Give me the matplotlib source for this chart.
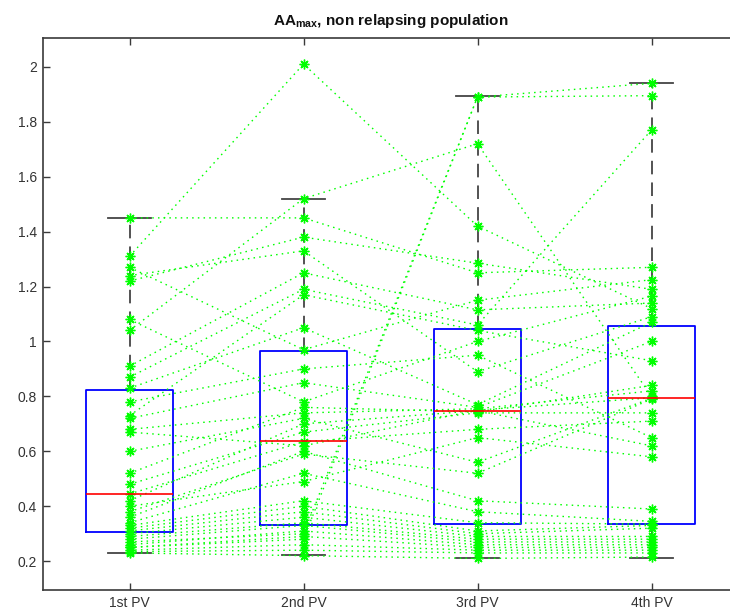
import matplotlib
matplotlib.use("Agg")
import matplotlib.pyplot as plt
import numpy as np

plt.rcParams['font.family'] = ['Liberation Sans', 'DejaVu Sans']
plt.rcParams['mathtext.fontset'] = 'custom'
plt.rcParams['mathtext.rm'] = 'Liberation Sans'
plt.rcParams['mathtext.bf'] = 'Liberation Sans:bold'

visits = ['1st PV', '2nd PV', '3rd PV', '4th PV']

# AA_max per patient at each visit (one entry per patient, same order in each list)
pv1 = [1.45, 1.31, 1.04, 0.25, 0.27, 1.27, 1.24, 1.22, 1.08, 0.91,
       0.87, 0.83, 0.78, 0.73, 0.72, 0.68, 0.67, 0.60, 0.52, 0.48,
       0.445, 0.42, 0.40, 0.38, 0.36, 0.34, 0.33, 0.32, 0.31, 0.30,
       0.29, 0.28, 0.26, 0.25, 0.24, 0.235, 0.23]
pv2 = [1.45, 2.01, 1.52, 0.28, 0.30, 0.97, 1.33, 1.38, 0.78, 1.25,
       1.19, 1.05, 0.90, 1.17, 0.85, 0.74, 0.62, 0.72, 0.76, 0.67,
       0.635, 0.70, 0.49, 0.59, 0.60, 0.52, 0.42, 0.40, 0.38, 0.36,
       0.34, 0.33, 0.31, 0.29, 0.26, 0.24, 0.22]
pv3 = [1.25, 1.42, 1.72, 1.89, 1.89, 1.15, 0.89, 1.285, 1.00, 1.115,
       1.06, 0.77, 0.95, 1.04, 0.76, 0.755, 0.75, 0.56, 0.744, 0.74,
       0.68, 0.748, 0.65, 0.52, 0.42, 0.38, 0.34, 0.31, 0.30, 0.29,
       0.28, 0.27, 0.26, 0.25, 0.24, 0.23, 0.21]
pv4 = [1.27, 1.12, 0.80, 1.94, 1.895, 1.225, 1.09, 1.19, 1.165, 1.14,
       1.77, 1.07, 0.65, 0.93, 1.00, 0.82, 0.795, 0.793, 0.84, 0.74,
       0.71, 0.62, 0.58, 0.79, 0.39, 0.345, 0.335, 0.33, 0.32, 0.29,
       0.28, 0.27, 0.26, 0.25, 0.24, 0.23, 0.215]

# Box summary per visit
q1 = [0.306, 0.331, 0.337, 0.337]
med = [0.444, 0.636, 0.745, 0.795]
q3 = [0.822, 0.967, 1.046, 1.058]
whis_lo = [0.230, 0.222, 0.211, 0.213]
whis_hi = [1.449, 1.520, 1.893, 1.942]

fig = plt.figure(figsize=(7.30, 6.14), dpi=100)
ax = fig.add_axes([42.5 / 730, 24 / 614, 696 / 730, 552 / 614])

positions = np.arange(1, len(visits) + 1)
stats = [dict(med=m, q1=a, q3=b, whislo=lo, whishi=hi, fliers=[])
         for m, a, b, lo, hi in zip(med, q1, q3, whis_lo, whis_hi)]
axis_gray = '#3a3a3a'
ax.bxp(stats, positions=positions, widths=0.5, capwidths=0.25,
       showfliers=False, manage_ticks=False,
       boxprops=dict(color='#0000ff', lw=1.3),
       medianprops=dict(color='#ff0000', lw=1.2),
       whiskerprops=dict(color='#444444', lw=1.3, linestyle=(0, (7.5, 4.5))),
       capprops=dict(color='#444444', lw=1.3))

data = np.array([pv1, pv2, pv3, pv4])
for k in range(data.shape[1]):
    ax.plot(positions, data[:, k], color='#00ff00', lw=1.0,
            linestyle=(0, (1.1, 3.0)), marker=(8, 2, 0), markersize=7,
            markeredgewidth=1.0, markeredgecolor='#00ff00')

ax.set_xlim(0.5, 4.5)
ax.set_ylim(0.095, 2.105)
ax.set_xticks(positions)
ax.set_xticklabels(visits)
ax.set_yticks([0.2, 0.4, 0.6, 0.8, 1.0, 1.2, 1.4, 1.6, 1.8, 2.0])
ax.set_yticklabels(['0.2', '0.4', '0.6', '0.8', '1', '1.2', '1.4', '1.6', '1.8', '2'])
ax.tick_params(direction='in', length=5, width=1, color=axis_gray,
               labelcolor='#333333', labelsize=10, pad=4,
               top=True, right=True)
for s in ax.spines.values():
    s.set_color(axis_gray)
    s.set_linewidth(1.2)

ax.set_title(r'AA$_{\mathbf{max}}$, non relapsing population',
             fontsize=11, fontweight='bold', color='#111111', pad=9)

fig.savefig('out.png', dpi=100)
